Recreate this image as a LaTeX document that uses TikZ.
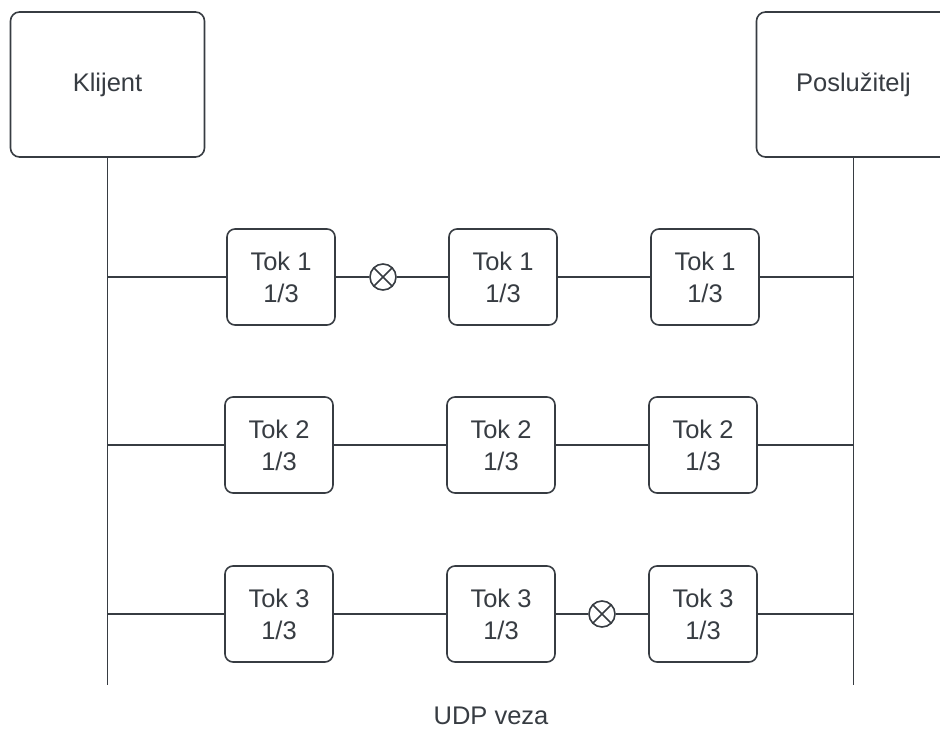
\documentclass[tikz,border=0pt]{standalone}
\usepackage{fontspec}
\setmainfont{Liberation Sans}
\usepackage{tikz}
\usetikzlibrary{positioning}
\definecolor{linegray}{RGB}{55,60,66}

\begin{document}
\begin{tikzpicture}[
    x=1pt, y=-1pt,
    node distance=222pt,
    font=\fontsize{25.5}{32}\selectfont,
    host/.style={
		rectangle,
		rounded corners=9pt,
		draw=linegray,
		text=linegray,
		line width=1.6pt,
		minimum width=194pt,
		minimum height=145pt
	},
    tok/.style={
		rectangle,
		rounded corners=8pt,
		draw=linegray,
		text=linegray,
		line width=1.6pt,
		align=center,
		minimum width=108pt,
		minimum height=96pt
	},
    loss/.style={
		circle,
		draw=linegray,
		line width=1.6pt,
		minimum size=26pt,
		inner sep=0pt,
		path picture={
			\draw [linegray, line width=1.6pt]
			(path picture bounding box.south west) -- (path picture bounding box.north east)
			(path picture bounding box.north west) -- (path picture bounding box.south east);
		}
	},
    wire/.style={
		draw=linegray,
		line width=1.5pt
	}
  ]
  \useasboundingbox (0,0) rectangle (940,730);

    % the two ends of the connection
  \node [host] (klijent) at (107.5,84.5) {Klijent};
  \node [host] (posluzitelj) at (853.5,84.5) {Poslužitelj};

  \coordinate (kend) at (107.5,685);
  \coordinate (pend) at (853.5,685);

    % streams
  \node [tok] (tok11) at (281,277) {Tok 1\\1/3};
  \node [tok, right of=tok11] (tok12) {Tok 1\\1/3};
  \node [tok, right of=tok12, xshift=-20pt] (tok13) {Tok 1\\1/3};

  \node [tok, below of=tok11, node distance=168pt, xshift=-2pt] (tok21) {Tok 2\\1/3};
  \node [tok, right of=tok21] (tok22) {Tok 2\\1/3};
  \node [tok, right of=tok22, xshift=-20pt] (tok23) {Tok 2\\1/3};

  \node [tok, below of=tok21, node distance=169pt] (tok31) {Tok 3\\1/3};
  \node [tok, right of=tok31] (tok32) {Tok 3\\1/3};
  \node [tok, right of=tok32, xshift=-20pt] (tok33) {Tok 3\\1/3};

    % lost packets
  \node [loss] (cut1) at (383,277) {};
  \node [loss] (cut3) at (602,614) {};

  \node [text=linegray, inner sep=0pt] (udp) at (491,716) {UDP veza};

  \draw [wire] (klijent) -- (kend);
  \draw [wire] (posluzitelj) -- (pend);

  \draw [wire] (tok11 -| kend) -- (tok11);
  \draw [wire] (tok11) -- (cut1);
  \draw [wire] (cut1) -- (tok12);
  \draw [wire] (tok12) -- (tok13);
  \draw [wire] (tok13) -- (tok13 -| pend);

  \draw [wire] (tok21 -| kend) -- (tok21);
  \draw [wire] (tok21) -- (tok22);
  \draw [wire] (tok22) -- (tok23);
  \draw [wire] (tok23) -- (tok23 -| pend);

  \draw [wire] (tok31 -| kend) -- (tok31);
  \draw [wire] (tok31) -- (tok32);
  \draw [wire] (tok32) -- (cut3);
  \draw [wire] (cut3) -- (tok33);
  \draw [wire] (tok33) -- (tok33 -| pend);

\end{tikzpicture}
\end{document}
